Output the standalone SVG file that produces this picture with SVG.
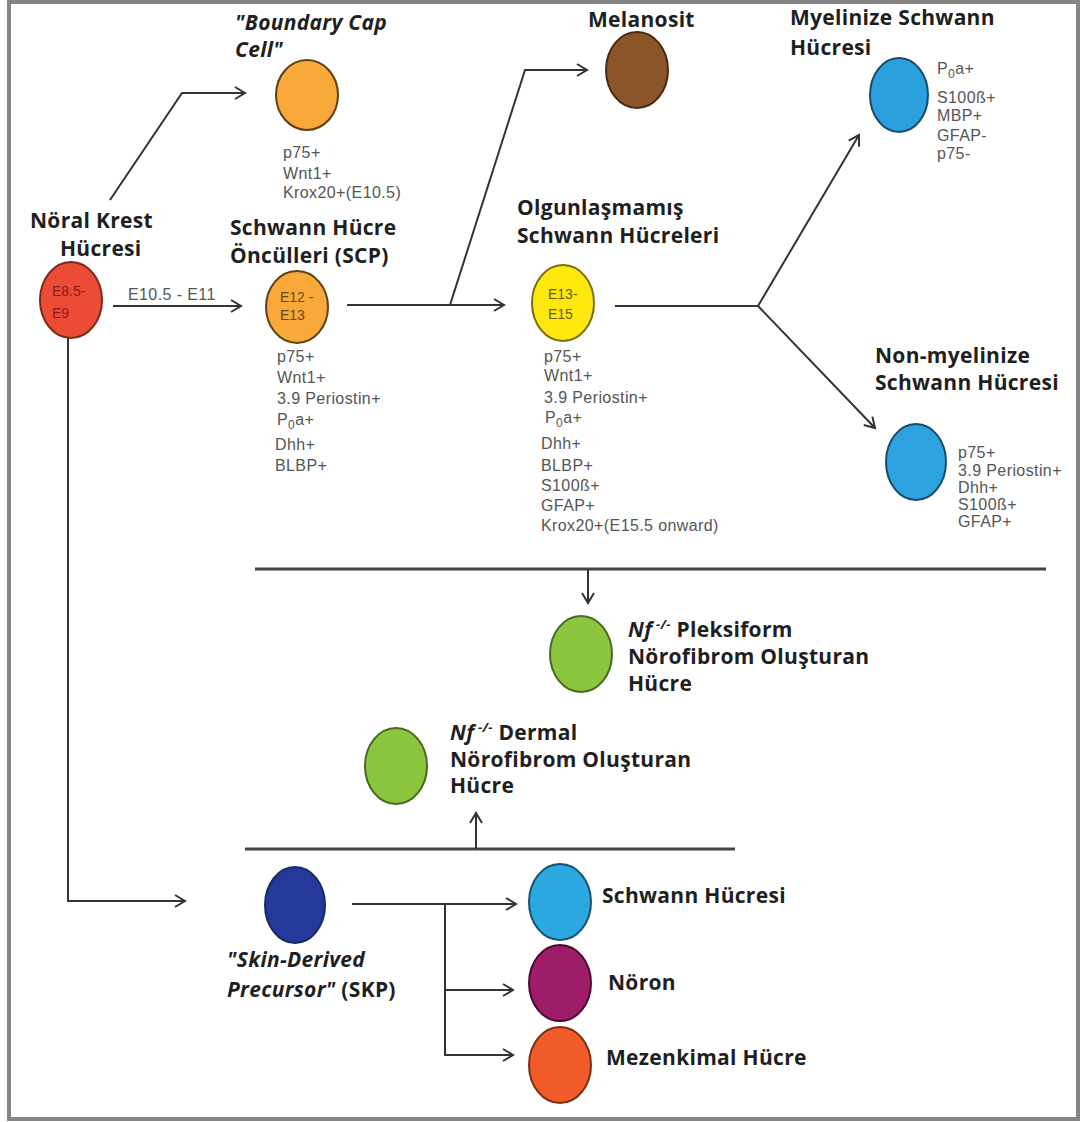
<svg xmlns="http://www.w3.org/2000/svg" width="1084" height="1122" viewBox="0 0 1084 1122">
<defs>
<style>
.lbl{font-family:"Open Sans","Noto Sans",sans-serif;font-weight:700;font-size:21px;letter-spacing:0.3px;fill:#1f1f1f}
.it{font-style:italic}
.mk{font-family:"Liberation Sans",Arial,sans-serif;font-size:16px;letter-spacing:0.4px;fill:#555}
.in{font-family:"Liberation Sans",Arial,sans-serif;font-size:14px}
.cell{stroke-width:2}
.con{fill:none;stroke:#333;stroke-width:2}
.bar{fill:none;stroke:#444;stroke-width:3}
</style>
<marker id="ah" markerUnits="userSpaceOnUse" markerWidth="16" markerHeight="16" viewBox="-12 -8 14 16" refX="0" refY="0" orient="auto">
<path d="M-10,-6 L0,0 L-10,6" fill="none" stroke="#333" stroke-width="2"/>
</marker>
</defs>
<rect x="0" y="0" width="1084" height="1122" fill="#fff"/>
<rect x="9" y="2" width="1069" height="1117" fill="none" stroke="#858585" stroke-width="4"/>

<g id="connectors">
<path class="con" d="M110,200 L182,93 L245,93" marker-end="url(#ah)"/>
<path class="con" d="M113,306 L241,306" marker-end="url(#ah)"/>
<text class="mk" x="128" y="300" fill="#444">E10.5 - E11</text>
<path class="con" d="M347,305 L504,305" marker-end="url(#ah)"/>
<path class="con" d="M450,305 L525,70 L587,70" marker-end="url(#ah)"/>
<path class="con" d="M615,306 L758,306"/>
<path class="con" d="M758,306 L859,135" marker-end="url(#ah)"/>
<path class="con" d="M758,306 L875,428" marker-end="url(#ah)"/>
<path class="bar" d="M255,569 L1046,569"/>
<path class="con" d="M588,569 L588,603" marker-end="url(#ah)"/>
<path class="bar" d="M245,849 L735,849"/>
<path class="con" d="M476,849 L476,813" marker-end="url(#ah)"/>
<path class="con" d="M68,338 L68,901 L185,901" marker-end="url(#ah)"/>
<path class="con" d="M352,904 L516,904" marker-end="url(#ah)"/>
<path class="con" d="M445,904 L445,1055 L513,1055" marker-end="url(#ah)"/>
<path class="con" d="M445,990 L513,990" marker-end="url(#ah)"/>
</g>

<g id="neural-crest">
<ellipse class="cell" cx="71" cy="300" rx="31" ry="38" fill="#EC4B35" stroke="#7a2a18"/>
<text class="in" fill="#8b1a1a"><tspan x="52" y="296">E8.5-</tspan><tspan x="52" y="318">E9</tspan></text>
<text class="lbl"><tspan x="30" y="228">Nöral Krest</tspan><tspan x="60" y="256">Hücresi</tspan></text>
</g>

<g id="boundary-cap">
<ellipse class="cell" cx="307" cy="95" rx="31" ry="35" fill="#F8A93A" stroke="#5a4216"/>
<text class="lbl it"><tspan x="235" y="30">"Boundary Cap</tspan><tspan x="235" y="57">Cell"</tspan></text>
<text class="mk"><tspan x="283" y="158">p75+</tspan><tspan x="283" y="179">Wnt1+</tspan><tspan x="283" y="198">Krox20+(E10.5)</tspan></text>
</g>

<g id="scp">
<ellipse class="cell" cx="297" cy="307" rx="31" ry="36" fill="#F8A93A" stroke="#5a4216"/>
<text class="in" fill="#6a4a12"><tspan x="280" y="302">E12 -</tspan><tspan x="280" y="320">E13</tspan></text>
<text class="lbl"><tspan x="230" y="235">Schwann Hücre</tspan><tspan x="230" y="263">Öncülleri (SCP)</tspan></text>
<text class="mk"><tspan x="277" y="362">p75+</tspan><tspan x="277" y="383">Wnt1+</tspan><tspan x="277" y="404">3.9 Periostin+</tspan><tspan x="277" y="425">P<tspan font-size="12" dy="4">0</tspan><tspan dy="-4">a+</tspan></tspan><tspan x="275" y="450">Dhh+</tspan><tspan x="275" y="471">BLBP+</tspan></text>
</g>

<g id="melanosit">
<ellipse class="cell" cx="637" cy="70" rx="31" ry="38" fill="#8A5528" stroke="#4a2a10"/>
<text class="lbl" x="588" y="27">Melanosit</text>
</g>

<g id="immature">
<ellipse class="cell" cx="563" cy="303" rx="31" ry="38" fill="#FFE80E" stroke="#7a6e10"/>
<text class="in" fill="#6a5a10"><tspan x="548" y="299">E13-</tspan><tspan x="548" y="319">E15</tspan></text>
<text class="lbl"><tspan x="517" y="215">Olgunlaşmamış</tspan><tspan x="517" y="243">Schwann Hücreleri</tspan></text>
<text class="mk"><tspan x="544" y="362">p75+</tspan><tspan x="544" y="381">Wnt1+</tspan><tspan x="544" y="403">3.9 Periostin+</tspan><tspan x="545" y="423">P<tspan font-size="12" dy="4">0</tspan><tspan dy="-4">a+</tspan></tspan><tspan x="541" y="449">Dhh+</tspan><tspan x="541" y="471">BLBP+</tspan><tspan x="541" y="491">S100ß+</tspan><tspan x="541" y="511">GFAP+</tspan><tspan x="541" y="531">Krox20+(E15.5 onward)</tspan></text>
</g>

<g id="myelinated">
<ellipse class="cell" cx="899" cy="95" rx="29" ry="37" fill="#2AA0DC" stroke="#1a4a6a"/>
<text class="lbl"><tspan x="790" y="25">Myelinize Schwann</tspan><tspan x="790" y="55">Hücresi</tspan></text>
<text class="mk"><tspan x="937" y="74">P<tspan font-size="12" dy="4">0</tspan><tspan dy="-4">a+</tspan></tspan><tspan x="937" y="103">S100ß+</tspan><tspan x="937" y="121">MBP+</tspan><tspan x="937" y="141">GFAP-</tspan><tspan x="937" y="159">p75-</tspan></text>
</g>

<g id="non-myelinated">
<ellipse class="cell" cx="916" cy="462" rx="30" ry="38" fill="#2CA3DF" stroke="#1a4a6a"/>
<text class="lbl"><tspan x="875" y="363">Non-myelinize</tspan><tspan x="875" y="390">Schwann Hücresi</tspan></text>
<text class="mk"><tspan x="958" y="458">p75+</tspan><tspan x="958" y="476">3.9 Periostin+</tspan><tspan x="958" y="493">Dhh+</tspan><tspan x="958" y="510">S100ß+</tspan><tspan x="958" y="527">GFAP+</tspan></text>
</g>

<g id="plexiform">
<ellipse class="cell" cx="581" cy="654" rx="31" ry="38" fill="#8CC63F" stroke="#4a6a20"/>
<text class="lbl"><tspan x="628" y="637"><tspan class="it">Nf</tspan><tspan class="it" font-size="13" dy="-8"> -/-</tspan><tspan dy="8"> Pleksiform</tspan></tspan><tspan x="628" y="664">Nörofibrom Oluşturan</tspan><tspan x="628" y="691">Hücre</tspan></text>
</g>

<g id="dermal">
<ellipse class="cell" cx="396" cy="766" rx="31" ry="38" fill="#8CC63F" stroke="#4a6a20"/>
<text class="lbl"><tspan x="450" y="740"><tspan class="it">Nf</tspan><tspan class="it" font-size="13" dy="-8"> -/-</tspan><tspan dy="8"> Dermal</tspan></tspan><tspan x="450" y="767">Nörofibrom Oluşturan</tspan><tspan x="450" y="793">Hücre</tspan></text>
</g>

<g id="skp">
<ellipse class="cell" cx="295" cy="905" rx="30" ry="38" fill="#24399A" stroke="#1a2a60"/>
<text class="lbl"><tspan x="227" y="967" class="it">"Skin-Derived</tspan><tspan x="227" y="997"><tspan class="it">Precursor"</tspan> (SKP)</tspan></text>
</g>

<g id="schwann">
<ellipse class="cell" cx="560" cy="902" rx="31" ry="38" fill="#2BA8E0" stroke="#1a5070"/>
<text class="lbl" x="602" y="903">Schwann Hücresi</text>
</g>

<g id="noron">
<ellipse class="cell" cx="560" cy="983" rx="31" ry="38" fill="#9D1D69" stroke="#4a0a30"/>
<text class="lbl" x="608" y="990">Nöron</text>
</g>

<g id="mezenkimal">
<ellipse class="cell" cx="560" cy="1065" rx="31" ry="38" fill="#F15A29" stroke="#7a3010"/>
<text class="lbl" x="606" y="1065">Mezenkimal Hücre</text>
</g>
</svg>
